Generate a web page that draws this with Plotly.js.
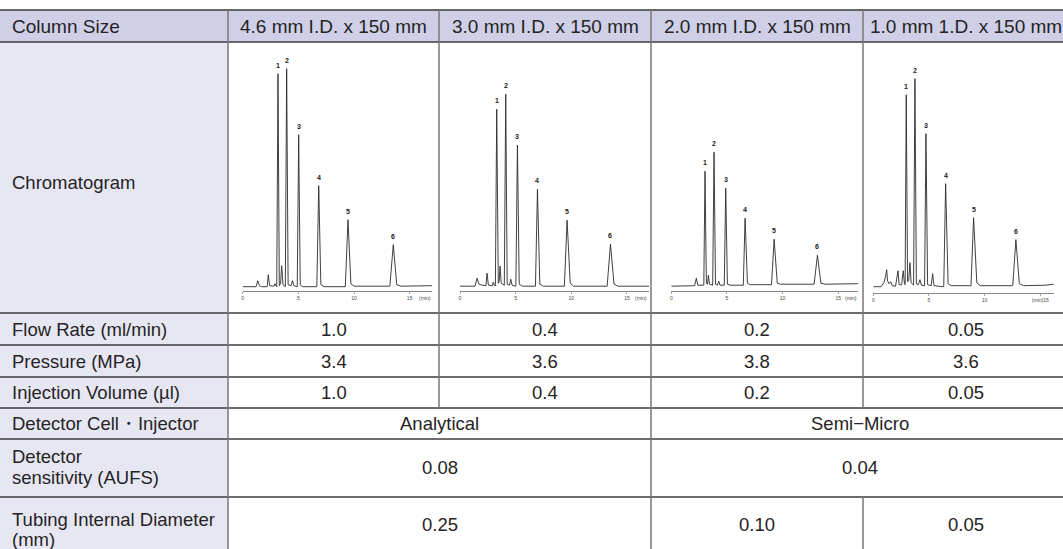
<!DOCTYPE html>
<html>
<head>
<meta charset="utf-8">
<script src="https://cdn.plot.ly/plotly-3.0.1.min.js"></script>
<style>html,body{margin:0;padding:0;background:#fff;}#chart{width:1063px;height:549px;}</style>
</head>
<body>
<div id="chart"></div>
<script>
// ---------- DATA ----------
const rowLabels = ["Column Size", "Chromatogram", "Flow Rate (ml/min)", "Pressure (MPa)",
  "Injection Volume (µl)", "Detector Cell・Injector", "Detector<br>sensitivity (AUFS)",
  "Tubing Internal Diameter<br>(mm)"];
const columnSizes = ["4.6 mm I.D. x 150 mm", "3.0 mm I.D. x 150 mm", "2.0 mm I.D. x 150 mm", "1.0 mm 1.D. x 150 mm"];
const flowRate = ["1.0", "0.4", "0.2", "0.05"];
const pressure = ["3.4", "3.6", "3.8", "3.6"];
const injectionVolume = ["1.0", "0.4", "0.2", "0.05"];
const detectorCell = ["Analytical", "Semi−Micro"];          // each spans two columns
const detectorSensitivity = ["0.08", "0.04"];               // each spans two columns
const tubingID = ["0.25", "0.10", "0.05"];                  // spans 2, 1, 1 columns
const tubingSpan = [2, 1, 1];

const peakLabels = ["1", "2", "3", "4", "5", "6"];

// Chromatogram 1: 4.6 mm I.D.
const time1 = [0, 1.2, 1.35, 1.5, 1.7, 2.2, 2.3, 2.42, 2.8, 2.9, 3.0, 3.06, 3.17, 3.29, 3.4, 3.5, 3.62, 3.83, 3.95, 4.08, 4.35, 4.47, 4.6, 4.9, 5.03, 5.17, 5.4, 6.66, 6.83, 7.02, 7.3, 9.22, 9.46, 9.72, 10.0, 13.22, 13.53, 13.84, 14.2, 17.0];
const signal1 = [0, 0, 6, 1, 0, 0, 12, 1, 0.5, 3, 0.5, 0, 213, 1, 3, 21, 2, 0, 218, 2, 1, 6, 1, 0, 152, 2, 0, 0, 101, 2, 0, 0, 67, 3, 0.5, 0.5, 42, 2, 0.5, 1];
const peakTime1 = [3.17, 3.95, 5.03, 6.83, 9.46, 13.53];
const peakHeight1 = [213, 218, 152, 101, 67, 42];

// Chromatogram 2: 3.0 mm I.D.
const time2 = [0, 1.35, 1.53, 1.7, 2.0, 2.33, 2.43, 2.55, 2.9, 2.99, 3.1, 3.18, 3.3, 3.44, 3.52, 3.6, 3.7, 3.98, 4.11, 4.24, 4.45, 4.56, 4.68, 5.02, 5.16, 5.32, 5.6, 6.78, 6.96, 7.17, 7.5, 9.38, 9.62, 9.9, 10.2, 13.22, 13.52, 13.84, 14.2, 17.0];
const signal2 = [0, 0, 8, 2, 1, 0.5, 13, 1, 0.5, 4, 0.5, 0.5, 177, 3, 5, 20, 3, 1, 192, 2, 1, 7, 1, 0, 141, 2, 0, 0, 97, 2, 0, 0, 66, 3, 0, 0, 42, 2, 0, 0];
const peakTime2 = [3.3, 4.11, 5.16, 6.96, 9.62, 13.52];
const peakHeight2 = [177, 192, 141, 97, 66, 42];

// Chromatogram 3: 2.0 mm I.D.
const time3 = [0, 2.1, 2.25, 2.38, 2.92, 3.03, 3.15, 3.25, 3.33, 3.43, 3.72, 3.84, 3.97, 4.15, 4.26, 4.38, 4.76, 4.89, 5.04, 5.3, 6.47, 6.63, 6.84, 7.1, 9.0, 9.24, 9.52, 9.8, 12.83, 13.13, 13.44, 13.8, 16.8];
const signal3 = [0, 0.5, 8, 1, 1, 115, 3, 2, 11, 2, 1, 134, 2, 1, 5, 1, 1, 98, 2, 1, 1, 68, 3, 1.5, 1.5, 47, 3, 2, 2, 31, 3, 2, 2.5];
const peakTime3 = [3.03, 3.84, 4.89, 6.63, 9.24, 13.13];
const peakHeight3 = [115, 134, 98, 68, 47, 31];

// Chromatogram 4: 1.0 mm I.D.
const time4 = [0, 0.7, 0.95, 1.1, 1.2, 1.28, 1.4, 1.56, 1.7, 2.0, 2.22, 2.32, 2.55, 2.69, 2.8, 2.86, 2.96, 3.08, 3.18, 3.29, 3.4, 3.62, 3.74, 3.87, 4.05, 4.19, 4.32, 4.61, 4.73, 4.88, 5.2, 5.33, 5.45, 6.33, 6.5, 6.72, 7.0, 8.78, 9.01, 9.3, 9.6, 12.53, 12.81, 13.12, 13.5, 15.5, 16.2];
const signal4 = [0, 0, 4, 10, 17, 6, 3, 5, 1, 0.5, 16, 2, 2, 16, 3, 2, 192, 5, 6, 24, 4, 1.5, 208, 3, 2, 7, 1.5, 1, 153, 2, 1, 13, 1, 0, 103, 3, 1, 1, 69, 4, 1, 1, 47, 3, 1, 1.5, 2.5];
const peakTime4 = [2.96, 3.74, 4.73, 6.5, 9.01, 12.81];
const peakHeight4 = [192, 208, 153, 103, 69, 47];

const chromTimes = [time1, time2, time3, time4];
const chromSignals = [signal1, signal2, signal3, signal4];
const peakTimes = [peakTime1, peakTime2, peakTime3, peakTime4];
const peakHeights = [peakHeight1, peakHeight2, peakHeight3, peakHeight4];
const tickValues = [0, 5, 10, 15];
const tickTexts = [["0", "5", "10", "15"], ["0", "5", "10", "15"], ["0", "5", "10", "15"], ["0", "5", "10", "(min)15"]];
const unitLabel = "(min)";

// ---------- LAYOUT GEOMETRY (pixels) ----------
const W = 1063, H = 549;
const px = x => x / W;
const py = y => 1 - y / H;
const colX = [0, 228, 439, 651, 863, 1069];
const rowY = [10, 42, 313, 345, 377, 408, 439, 497];
const FONT = "Liberation Sans, Arial, sans-serif";
const TXT = "#262324";
const FS_HEAD = 19;
const FS = 18.5;
const pxPerMin = 11.13;
const plotCells = [
  {x0: 242.7, tEnd: 17.05, axisPy: 290.7, basePy: 286.7, unitT: 16.4},
  {x0: 460.0, tEnd: 17.0, axisPy: 290.7, basePy: 286.2, unitT: 16.28},
  {x0: 671.3, tEnd: 16.8, axisPy: 290.7, basePy: 286.2, unitT: 16.15},
  {x0: 873.3, tEnd: 16.25, axisPy: 293.3, basePy: 286.7, unitT: null}
];
const plotH = 250;

const shapes = [];
const annotations = [];

// backgrounds
shapes.push({type: "rect", xref: "paper", yref: "paper", x0: px(0), x1: px(1069), y0: py(rowY[0]), y1: py(rowY[1]),
  fillcolor: "#cfd0e7", line: {width: 0}, layer: "below"});
shapes.push({type: "rect", xref: "paper", yref: "paper", x0: px(0), x1: px(colX[1]), y0: py(rowY[1]), y1: py(H + 5),
  fillcolor: "#e7e7f4", line: {width: 0}, layer: "below"});

// horizontal lines
const hColor = "#3d3a3b";
rowY.forEach((yv, i) => {
  shapes.push({type: "line", xref: "paper", yref: "paper", x0: px(0), x1: px(1069), y0: py(yv), y1: py(yv),
    line: {color: hColor, width: i === 0 ? 1.6 : 1.3}});
});
// vertical lines
const vColor = "#7a7676";
function vline(x, yA, yB) {
  shapes.push({type: "line", xref: "paper", yref: "paper", x0: px(x), x1: px(x), y0: py(yA), y1: py(yB),
    line: {color: vColor, width: 1.5}});
}
vline(colX[1], rowY[0], H + 5);
vline(colX[2], rowY[0], rowY[5]);
vline(colX[3], rowY[0], H + 5);
vline(colX[4], rowY[0], rowY[5]);
vline(colX[4], rowY[7], H + 5);

function txt(text, x, y, anchor, size) {
  annotations.push({text: text, xref: "paper", yref: "paper", x: px(x), y: py(y), xanchor: anchor || "center",
    yanchor: "middle", showarrow: false, align: "left", borderpad: 0,
    font: {family: FONT, size: size || FS, color: TXT}});
}
// row labels (left column); multi-line labels are split and placed line by line
const labelY = [[26], [182], [329], [361], [392.5], [423.5], [456, 477], [519, 539]];
rowLabels.forEach((t, i) => {
  t.split("<br>").forEach((line, j) => txt(line, 11, labelY[i][j], "left", i === 0 ? FS_HEAD : FS));
});
// header
const colCenter = i => (colX[i + 1] + colX[i + 2]) / 2;
columnSizes.forEach((t, i) => txt(t, colCenter(i), 26, "center", FS_HEAD));
// simple rows
flowRate.forEach((t, i) => txt(t, colCenter(i), 329));
pressure.forEach((t, i) => txt(t, colCenter(i), 361));
injectionVolume.forEach((t, i) => txt(t, colCenter(i), 392.5));
detectorCell.forEach((t, i) => txt(t, (colX[1 + 2 * i] + colX[3 + 2 * i]) / 2, 423.5));
detectorSensitivity.forEach((t, i) => txt(t, (colX[1 + 2 * i] + colX[3 + 2 * i]) / 2, 467));
let c = 1;
tubingID.forEach((t, i) => { txt(t, (colX[c] + colX[c + tubingSpan[i]]) / 2, 524); c += tubingSpan[i]; });

// ---------- CHROMATOGRAMS ----------
const traces = [];
const layoutAxes = {};
plotCells.forEach((cell, k) => {
  const n = k + 1;
  const xa = "xaxis" + (n === 1 ? "" : n), ya = "yaxis" + (n === 1 ? "" : n);
  const xr = "x" + (n === 1 ? "" : n), yr = "y" + (n === 1 ? "" : n);
  const off = cell.axisPy - cell.basePy;
  layoutAxes[xa] = {
    domain: [px(cell.x0), px(cell.x0 + cell.tEnd * pxPerMin)], range: [0, cell.tEnd], anchor: yr,
    showgrid: false, zeroline: false, showline: true, linecolor: "#6b6b6b", linewidth: 0.8,
    ticks: "outside", ticklen: 2, tickwidth: 0.6, tickcolor: "#6b6b6b",
    tickvals: tickValues, ticktext: tickTexts[k], tickfont: {family: FONT, size: 5, color: "#444"},
    fixedrange: true
  };
  layoutAxes[ya] = {
    domain: [py(cell.axisPy), py(cell.axisPy - plotH)], range: [-off, plotH - off], anchor: xr,
    visible: false, fixedrange: true
  };
  traces.push({x: chromTimes[k], y: chromSignals[k], xaxis: xr, yaxis: yr, type: "scatter", mode: "lines",
    line: {color: "#2b2b2b", width: 0.9}, hoverinfo: "skip"});
  peakTimes[k].forEach((t, j) => {
    annotations.push({text: peakLabels[j], xref: xr, yref: yr, x: t, y: peakHeights[k][j], xanchor: "center",
      yanchor: "bottom", yshift: 3, showarrow: false, font: {family: FONT, size: 7, color: "#1a1a1a", weight: "bold"}});
  });
  if (cell.unitT !== null) {
    annotations.push({text: unitLabel, xref: xr, yref: yr, x: cell.unitT, y: -off, xanchor: "center",
      yanchor: "top", yshift: -2, showarrow: false, font: {family: FONT, size: 5, color: "#444"}});
  }
});

const layout = Object.assign({
  width: W, height: H, margin: {l: 0, r: 0, t: 0, b: 0},
  paper_bgcolor: "#ffffff", plot_bgcolor: "rgba(0,0,0,0)", showlegend: false,
  shapes: shapes, annotations: annotations
}, layoutAxes);

Plotly.newPlot("chart", traces, layout, {displayModeBar: false, staticPlot: true});
</script>
</body>
</html>
